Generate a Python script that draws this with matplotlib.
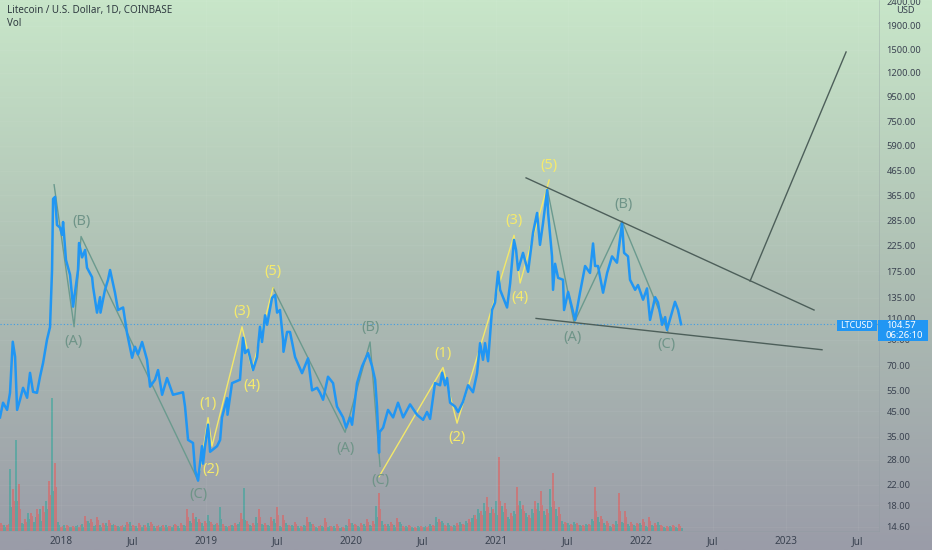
import numpy as np
import matplotlib
matplotlib.use("Agg")
import matplotlib.pyplot as plt
from matplotlib.patches import Rectangle
from matplotlib.colors import LinearSegmentedColormap

plt.rcParams['font.family'] = ['Noto Sans', 'DejaVu Sans']

price_t = [2017.579,2017.600,2017.628,2017.648,2017.667,2017.683,2017.697,2017.717,2017.738,2017.766,2017.786,2017.807,2017.834,2017.855,2017.876,2017.903,2017.924,2017.938,2017.945,2017.959,2017.972,2017.993,2018.007,2018.014,2018.034,2018.062,2018.083,2018.117,2018.124,2018.145,2018.166,2018.179,2018.214,2018.221,2018.248,2018.269,2018.272,2018.303,2018.324,2018.338,2018.372,2018.393,2018.428,2018.455,2018.490,2018.510,2018.531,2018.559,2018.593,2018.614,2018.648,2018.669,2018.697,2018.731,2018.772,2018.841,2018.855,2018.876,2018.910,2018.924,2018.945,2018.972,2018.979,2018.993,
2019.014,2019.028,2019.076,2019.097,2019.110,2019.145,2019.148,2019.179,2019.234,2019.255,2019.269,2019.290,2019.324,2019.352,2019.372,2019.386,2019.407,2019.421,2019.455,2019.476,2019.490,2019.510,2019.531,2019.534,2019.559,2019.579,2019.614,2019.662,2019.703,2019.731,2019.766,2019.786,2019.807,2019.841,2019.876,2019.903,2019.945,2019.966,2019.993,
2020.007,2020.041,2020.076,2020.117,2020.145,2020.166,2020.179,2020.193,2020.197,2020.221,2020.255,2020.290,2020.324,2020.359,2020.407,2020.455,2020.497,2020.524,2020.545,2020.579,2020.614,2020.628,2020.648,2020.662,2020.683,2020.717,2020.738,2020.772,2020.807,2020.841,2020.869,2020.890,2020.910,2020.924,2020.945,2020.972,2020.993,
2021.014,2021.028,2021.048,2021.076,2021.097,2021.124,2021.138,2021.152,2021.186,2021.221,2021.255,2021.283,2021.303,2021.324,2021.352,2021.359,2021.386,2021.393,2021.407,2021.428,2021.462,2021.469,2021.497,2021.545,2021.579,2021.614,2021.648,2021.669,2021.683,2021.703,2021.738,2021.766,2021.800,2021.834,2021.869,2021.883,2021.910,2021.924,2021.959,2021.979,
2022.014,2022.041,2022.062,2022.097,2022.117,2022.145,2022.166,2022.179,2022.234,2022.255,2022.276]
price_v = [42.3,48.8,45.5,53.7,88.2,76.3,45.5,50.2,56.4,51.2,65.2,54.2,53.7,62.8,71.8,89.9,101.7,177.5,353,360,274,267,249,282,195,169,124,177,230,200,215,181,165,150,117,136,117,146,161,177,142,120,123,96,75.5,84,78,88,74,57,61,67,52.7,62,52.7,54,47,34,33,25.4,22.9,32,27,32,
39.4,30.3,32,34,42.3,51,43.4,59,61,91.6,79,81.6,67,76,102,88,114,104,135,139,117,120,90,80,97,97,76,65,75,55,56.4,53.7,50.2,62.8,59,47,42.3,38.3,42.3,
39.4,59,69.5,79,69.5,61,47,30,36.7,38.3,45.5,42.3,48.8,42.3,48,43.4,41.3,44.6,41.7,59,57.8,65.2,57.8,62,48.8,47,44.6,49.2,57.8,54,65,87,74,87,73,120,129,
174,146,136,123,155,237,215,177,209,174,254,308,226,279,385,308,202,146,188,164,161,120,143,109,142,184,172,229,184,184,142,172,202,190,279,209,202,161,146,153,
132.6,148,109,136,129,104,112,99,130,120,104.57]

vol_step = 6 / 145
vol_up_start = 2017.565
vol_down_start = 2017.586
vol_up_b_start = 2017.576
vol_down_b_start = 2017.597
vol_up = [3,6,62,91,8,18,9,22,30,133,9,6,4,5,7,10,5,6,8,6,5,4,9,5,4,8,5,4,6,4,5,6,10,14,8,16,6,24,5,6,7,43,6,14,7,6,12,5,8,6,5,6,9,4,5,4,5,3,6,8,5,7,6,25,10,7,6,9,5,4,5,4,7,14,10,8,6,9,10,13,22,28,18,30,25,14,20,30,18,22,28,20,42,22,10,8,9,6,7,12,14,8,5,10,9,7,6,8,5,6,9,4,5,4,3]
vol_down = [8,6,42,47,12,18,22,25,50,68,4,6,5,4,15,12,14,8,11,6,5,9,6,8,6,9,5,6,5,7,8,22,18,12,10,9,8,7,5,8,18,10,8,22,8,14,24,16,6,9,5,14,7,5,13,5,7,4,12,7,8,12,10,38,7,9,13,5,6,4,5,4,6,12,6,5,8,7,12,16,20,34,22,74,28,18,44,26,16,30,40,22,58,24,9,7,8,6,7,44,15,10,7,38,20,9,8,12,14,8,6,5,6,7]
vol_up_b = [5,4,24,30,7,12,14,10,22,40,6,3,4,6,4,8,6,4,5,7,4,6,5,3,6,5,3,5,4,6,3,5,8,9,5,10,7,12,4,5,9,11,5,8,6,5,8,4,6,5,3,5,7,3,4,5,3,4,5,6,4,5,5,14,6,5,4,7,4,3,4,5,5,9,8,6,5,7,8,16,18,20,24,16,19,12,17,22,14,18,20,16,24,15,7,6,7,5,6,10,9,6,4,7,8,5,5,6,4,5,6,3,4,3]
vol_down_b = [6,7,30,22,9,15,17,19,36,44,5,5,4,6,10,9,11,6,8,5,6,7,5,6,4,7,6,4,5,6,6,14,12,9,8,7,6,5,6,6,12,7,6,14,6,10,16,11,5,7,4,9,5,6,9,4,5,3,8,6,6,9,7,22,5,7,9,4,5,3,4,5,5,9,5,4,6,6,9,12,16,24,18,30,22,15,26,20,13,22,26,18,30,17,8,6,6,5,6,20,12,8,6,20,14,7,7,9,10,6,5,4,5,5]

wave_green = [
    ([2017.952,2018.090,2018.138,2018.945],[405,102,245,22.9]),
    ([2019.462,2019.959,2020.131,2020.200],[149,36.6,88,26.3]),
    ([2021.352,2021.538,2021.869,2022.186],[393,106,285,97]),
]
wave_yellow = [
    ([2018.959,2019.014,2019.041,2019.248,2019.317,2019.462],[25.4,42.2,32,102,67,149]),
    ([2020.193,2020.634,2020.731,2021.124,2021.166,2021.366],[23.8,68.7,40,248,156,424]),
]
trend_lines = [
    ([2021.207,2023.193],[433,120]),
    ([2021.276,2023.248],[110.6,81.6]),
    ([2022.752,2023.414],[159,1470]),
]
# text, time, price, offset in pixels above the point
labels_green = [("(A)",2018.083,102,-15),("(B)",2018.138,245,15),("(C)",2018.945,22.9,-14),
                ("(A)",2019.959,36.6,-16),("(B)",2020.131,88,14),("(C)",2020.200,26.3,-14),
                ("(A)",2021.525,106,-15),("(B)",2021.876,285,16),("(C)",2022.172,97,-13)]
labels_yellow = [("(1)",2019.014,42.2,14),("(2)",2019.034,32,-23),("(3)",2019.248,102,15),("(4)",2019.317,67,-15),("(5)",2019.462,149,16),
                 ("(1)",2020.634,68.7,14),("(2)",2020.731,40,-14),("(3)",2021.124,248,15),("(4)",2021.166,156,-14),("(5)",2021.366,424,15)]

y_ticks = [14.6,18,22,28,35,45,55,70,90,110,135,175,225,285,365,465,590,750,950,1200,1500,1900,2400]
x_years = [2018,2019,2020,2021,2022,2023]
last_price = 104.57
symbol = "LTCUSD"
countdown = "06:26:10"

W, H = 932, 550
fig = plt.figure(figsize=(W/100, H/100), dpi=100)

bg = fig.add_axes([0,0,1,1], zorder=0)
cmap = LinearSegmentedColormap.from_list("bg", ["#c8e6c9", "#aebfb4", "#9a9ca8"])
bg.imshow(np.linspace(0,1,256).reshape(-1,1), aspect="auto", cmap=cmap, extent=[0,1,0,1])
bg.axis("off")

rect = [0, (H-531)/H, 879/W, 531/H]
xlim = (2017.579, 2023.641)

# volume pane: same time scale, own hidden value scale
av = fig.add_axes(rect, zorder=1, facecolor="none")
for start, vals, col in ((vol_up_start, vol_up, "#26a69a"), (vol_down_start, vol_down, "#ef5350"),
                         (vol_up_b_start, vol_up_b, "#26a69a"), (vol_down_b_start, vol_down_b, "#ef5350")):
    av.bar(start + vol_step*np.arange(len(vals)), vals, width=0.0085, color=col, alpha=0.5, linewidth=0)
av.set_xlim(xlim); av.set_ylim(0, 531); av.axis("off")

ax = fig.add_axes(rect, zorder=2, facecolor="none")
ax.set_yscale("log")
ax.set_xlim(xlim)
ax.set_ylim(14.04, 2435)

ax.axhline(last_price, color="#2196f3", lw=0.8, ls=(0,(1,2)), alpha=0.8, zorder=1)
for xs, ys in wave_green:
    ax.plot(xs, ys, color="#6b9a8e", lw=1.0, zorder=2)
for xs, ys in wave_yellow:
    ax.plot(xs, ys, color="#f3e86a", lw=1.0, zorder=2)
ax.plot(price_t, price_v, color="#2196f3", lw=1.8, solid_joinstyle="round", zorder=3)
for xs, ys in trend_lines:
    ax.plot(xs, ys, color="#4d5f5a", lw=1.0, zorder=4)

for items, col, w in ((labels_green, "#6f9488", "medium"), (labels_yellow, "#f5ea6c", "bold")):
    for txt, t, p, dy in items:
        ax.annotate(txt, (t, p), xytext=(0, dy*0.72), textcoords="offset points",
                    ha="center", va="center", fontsize=10.5, color=col, fontweight=w, zorder=5)

ax.yaxis.tick_right()
ax.set_yticks(y_ticks)
ax.set_yticklabels([f"{v:.2f}" for v in y_ticks])
ax.minorticks_off()
ax.tick_params(axis="y", length=0, pad=5.5, labelsize=6.7, labelcolor="#3a4250")
jul = 181/365
xt, xl = [], []
for y in x_years:
    xt += [y, y+jul]; xl += [str(y), "Jul"]
ax.set_xticks(xt)
ax.set_xticklabels(xl)
ax.tick_params(axis="x", length=0, pad=3.5, labelsize=7.2, labelcolor="#3a4250")
for lab in ax.get_xticklabels():
    if lab.get_text() != "Jul":
        lab.set_fontweight("bold")
ax.grid(True, color="white", alpha=0.05, lw=0.6)
for s in ("top","left"):
    ax.spines[s].set_visible(False)
for s in ("right","bottom"):
    ax.spines[s].set_color("#8f9aa0"); ax.spines[s].set_linewidth(0.5); ax.spines[s].set_alpha(0.5)

def px(x, y):
    return x/W, 1-y/H

fig.text(*px(7,11), "Litecoin / U.S. Dollar, 1D, COINBASE", fontsize=7.1, color="#2f3a40", fontweight="bold", va="center", ha="left", zorder=6)
fig.text(*px(7,23), "Vol", fontsize=7.1, color="#2f3a40", va="center", ha="left", zorder=6)
fig.text(*px(905,10.5), "USD", fontsize=6.7, color="#3a4250", va="center", ha="center", zorder=6)

for x0, y0, w, h in ((837,320,40,11),(878,320,50,21)):
    fig.add_artist(Rectangle(px(x0,y0+h), w/W, h/H, transform=fig.transFigure, color="#2196f3", lw=0, zorder=7))
fig.text(*px(857,325.5), symbol, fontsize=6.4, color="white", va="center", ha="center", zorder=8)
fig.text(*px(886,325.5), f"{last_price:.2f}", fontsize=6.8, color="white", fontweight="bold", va="center", ha="left", zorder=8)
fig.text(*px(886,335.5), countdown, fontsize=6.8, color="white", va="center", ha="left", zorder=8)

fig.savefig("out.png", dpi=100)
